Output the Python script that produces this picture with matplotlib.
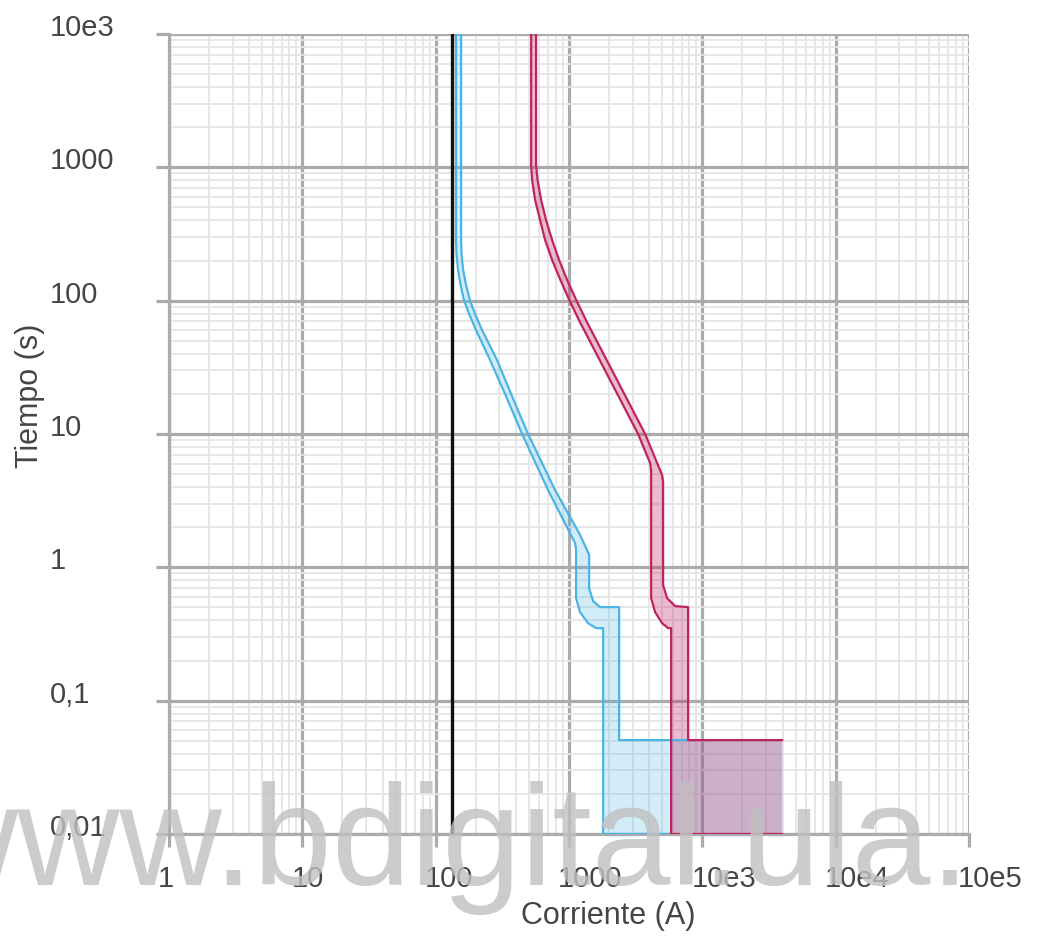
import matplotlib
matplotlib.use("Agg")
import matplotlib.pyplot as plt
from matplotlib.ticker import LogLocator, NullFormatter
from matplotlib.transforms import blended_transform_factory, offset_copy

plt.rcParams['font.family'] = ['Liberation Sans', 'DejaVu Sans']

# ---- data (current in A, time in s) ----
x_ticks = [1, 10, 100, 1000, 1e4, 1e5, 1e6]
x_tick_labels = ["1", "10", "100", "1000", "10e3", "10e4", "10e5"]
y_ticks = [0.01, 0.1, 1, 10, 100, 1000, 1e4]
y_tick_labels = ["0,01", "0,1", "1", "10", "100", "1000", "10e3"]

nominal_I = 132  # vertical black line

blue_min_I = [142, 142, 143.5, 147.2, 153.8, 163.3, 179.6, 201, 256, 337, 445, 697, 1111, 1130, 1130,
              1211, 1390, 1596, 1803, 1803, 5834]
blue_min_t = [10000, 285, 220, 170, 131, 100, 78, 60.1, 35.8, 19.2, 10, 3.79, 1.52, 1.35, 0.587,
              0.461, 0.381, 0.35, 0.35, 0.01, 0.01]

blue_max_I = [155.2, 155.2, 156.4, 160.6, 169, 181, 199, 223, 289, 374, 493, 787, 1211, 1416, 1416,
              1517, 1711, 2377, 2377, 7820]
blue_max_t = [10000, 285, 220, 170, 131, 100, 78, 60.1, 35.8, 19.2, 10, 3.79, 1.75, 1.24, 0.698,
              0.557, 0.503, 0.503, 0.0506, 0.0506]

red_min_I = [520, 520, 529, 557, 607, 662, 747, 862, 1010, 1200, 3298, 4059, 4130, 4130, 4425, 4993,
             5537, 5834, 5834, 39700]
red_min_t = [10000, 1041, 803, 569, 402, 285, 202, 143, 100, 70, 10, 6.05, 5.36, 0.587, 0.461, 0.381,
             0.35, 0.35, 0.01, 0.01]

red_max_I = [566, 566, 581, 618, 673, 747, 843, 968, 1139, 1354, 3724, 4993, 5080, 5080, 5445, 6251,
             7820, 7820, 39700]
red_max_t = [10000, 1041, 803, 569, 402, 285, 202, 143, 100, 70, 10, 4.92, 4.36, 0.735, 0.587, 0.512,
             0.503, 0.0506, 0.0506]

zone_end_I = 39700
zone_low_t = 0.01
zone_high_t = 0.0506

# ---- figure ----
W, H = 1039, 938
fig = plt.figure(figsize=(W / 100, H / 100), dpi=100)
ax = fig.add_axes([169 / W, 1 - 834 / H, 800 / W, 800 / H])
ax.set_xscale('log')
ax.set_yscale('log')
ax.set_xlim(1, 1e6)
ax.set_ylim(0.01, 1e4)

major_c = '#ababab'
ax.xaxis.set_minor_locator(LogLocator(base=10, subs=range(2, 10), numticks=100))
ax.yaxis.set_minor_locator(LogLocator(base=10, subs=range(2, 10), numticks=100))
ax.xaxis.set_minor_formatter(NullFormatter())
ax.yaxis.set_minor_formatter(NullFormatter())
ax.set_xticks(x_ticks)
ax.set_yticks(y_ticks)
ax.set_xticklabels([])
ax.set_yticklabels([])
ax.grid(which='minor', color='#e5e5e5', lw=1.3, zorder=0)
ax.grid(which='major', color=major_c, lw=2.3, zorder=0.5)
ax.set_axisbelow(True)
ax.tick_params(which='major', length=9.5, width=2.3, color=major_c, direction='out')
ax.tick_params(which='minor', length=0)
for s in ['top', 'right']:
    ax.spines[s].set_visible(False)
for s in ['left', 'bottom']:
    ax.spines[s].set_color(major_c)
    ax.spines[s].set_linewidth(2.3)

# tick labels (left aligned, as in the reference)
txt_c = '#454545'
ty = blended_transform_factory(fig.transFigure, ax.transData)
ty = offset_copy(ty, fig=fig, x=0, y=6, units='dots')
for v, lab in zip(y_ticks, y_tick_labels):
    ax.text(50 / W, v, lab, transform=ty, ha='left', va='center', fontsize=21, color=txt_c)
tx = blended_transform_factory(ax.transData, fig.transFigure)
tx = offset_copy(tx, fig=fig, x=-11, y=0, units='dots')
for v, lab in zip(x_ticks, x_tick_labels):
    ax.text(v, 1 - 879 / H, lab, transform=tx, ha='left', va='center', fontsize=21, color=txt_c, clip_on=False)

fig.text(30 / W, 1 - 396 / H, "Tiempo (s)", rotation=90, ha='center', va='center', fontsize=22, color=txt_c)
fig.text(608 / W, 1 - 916 / H, "Corriente (A)", ha='center', va='center', fontsize=22, color=txt_c)

# ---- fills ----
blue_c = '#4ab5e5'
red_c = '#bf2360'
bx = blue_min_I[:-1] + [zone_end_I, zone_end_I] + blue_max_I[::-1]
bt = blue_min_t[:-1] + [zone_low_t, zone_high_t] + blue_max_t[::-1]
ax.fill(bx, bt, color=blue_c, alpha=0.24, lw=0, zorder=2)
rx = red_min_I + red_max_I[::-1]
rt = red_min_t + red_max_t[::-1]
ax.fill(rx, rt, color=red_c, alpha=0.30, lw=0, zorder=2)

# ---- lines ----
ax.plot(blue_min_I, blue_min_t, color=blue_c, lw=1.6, zorder=3, solid_joinstyle='round')
ax.plot(blue_max_I, blue_max_t, color=blue_c, lw=1.6, zorder=3, solid_joinstyle='round')
ax.plot(red_min_I, red_min_t, color=red_c, lw=1.6, zorder=4, solid_joinstyle='round')
ax.plot(red_max_I, red_max_t, color=red_c, lw=1.6, zorder=4, solid_joinstyle='round')
ax.axvline(nominal_I, color='#111111', lw=2.4, zorder=5)

# watermark
fig.text(-85 / W, 1 - 885 / H, "www.bdigital.ula.", ha='left', va='baseline',
         fontsize=102, color='#c0c0c0', alpha=0.8, zorder=10)

fig.savefig('out.png', dpi=100)
